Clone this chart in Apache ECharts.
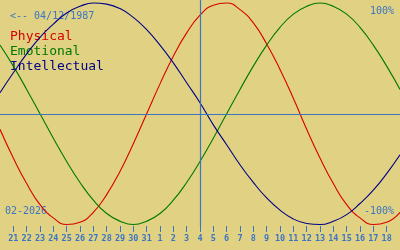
<!DOCTYPE html>
<html>
<head>
<meta charset="utf-8">
<script src="https://cdn.jsdelivr.net/npm/echarts@6/dist/echarts.min.js"></script>
<style>
html,body{margin:0;padding:0;background:#e0d282;}
#c{width:400px;height:250px;}
</style>
</head>
<body>
<div id="c"></div>
<script>
var days = [20,21,22,23,24,25,26,27,28,29,30,31,1,2,3,4,5,6,7,8,9,10,11,12,13,14,15,16,17,18,19];
var physical = [-14,-40,-63,-82,-94,-100,-98,-89,-73,-52,-27,0,27,52,73,89,98,100,94,82,63,40,14,-14,-40,-63,-82,-94,-100,-98,-89];
var emotional = [62,43,22,0,-22,-43,-62,-78,-90,-97,-100,-97,-90,-78,-62,-43,-22,0,22,43,62,78,90,97,100,97,90,78,62,43,22];
var intellectual = [19,37,54,69,81,91,97,100,99,95,87,76,62,46,28,10,-10,-28,-46,-62,-76,-87,-95,-99,-100,-97,-91,-81,-69,-54,-37];
var seriesNames = ['Physical','Emotional','Intellectual'];
var birthLabel = '<-- 04/12/1987';
var monthLabel = '02-2026';
var topLabel = '100%';
var bottomLabel = '-100%';
var todayIndex = 15;

var BLUE = '#3c74c4';
var colors = ['#d80000','#007800','#000088'];
var mono = '"DejaVu Sans Mono", "Liberation Mono", monospace';

var chart = echarts.init(document.getElementById('c'), null, {renderer:'canvas'});
function showIdx(i){ return i > 0 && i < days.length - 1; }
var option = {
  backgroundColor: '#e0d282',
  animation: false,
  grid: {left: 0, right: 0, top: 0, bottom: 24},
  xAxis: {
    type: 'category',
    data: days,
    boundaryGap: false,
    axisLine: {show: false, onZero: false},
    axisTick: {show: true, inside: false, length: 6, interval: function(i){return showIdx(i);}, lineStyle: {color: BLUE, width: 1}},
    axisLabel: {interval: function(i){return showIdx(i);}, color: BLUE, fontFamily: mono, fontSize: 8.5, fontWeight: 'bold', margin: 8},
    splitLine: {show: false}
  },
  yAxis: {
    type: 'value', min: -101.3, max: 102.7,
    show: false
  },
  series: [
    {name: seriesNames[0], type: 'line', data: physical, smooth: true, symbol: 'none', lineStyle: {color: colors[0], width: 1.1}, z: 3},
    {name: seriesNames[1], type: 'line', data: emotional, smooth: true, symbol: 'none', lineStyle: {color: colors[1], width: 1.1}, z: 3},
    {name: seriesNames[2], type: 'line', data: intellectual, smooth: true, symbol: 'none', lineStyle: {color: colors[2], width: 1.1}, z: 3,
     markLine: {silent: true, symbol: 'none', label: {show: false}, lineStyle: {color: BLUE, width: 1.2, type: 'solid'},
       data: [{yAxis: 0}, {xAxis: todayIndex}]}}
  ],
  graphic: [
    {type: 'text', left: 10, top: 11, style: {text: birthLabel, fill: BLUE, font: '10px ' + mono}},
    {type: 'text', left: 10, top: 30, style: {text: seriesNames[0], fill: colors[0], font: '13px ' + mono}},
    {type: 'text', left: 10, top: 45, style: {text: seriesNames[1], fill: colors[1], font: '13px ' + mono}},
    {type: 'text', left: 10, top: 60, style: {text: seriesNames[2], fill: colors[2], font: '13px ' + mono}},
    {type: 'text', right: 6, top: 6, style: {text: topLabel, fill: BLUE, font: '10px ' + mono}},
    {type: 'text', right: 6, top: 206, style: {text: bottomLabel, fill: BLUE, font: '10px ' + mono}},
    {type: 'text', left: 5, top: 206, style: {text: monthLabel, fill: BLUE, font: '10px ' + mono}}
  ]
};
chart.setOption(option);
</script>
</body>
</html>
